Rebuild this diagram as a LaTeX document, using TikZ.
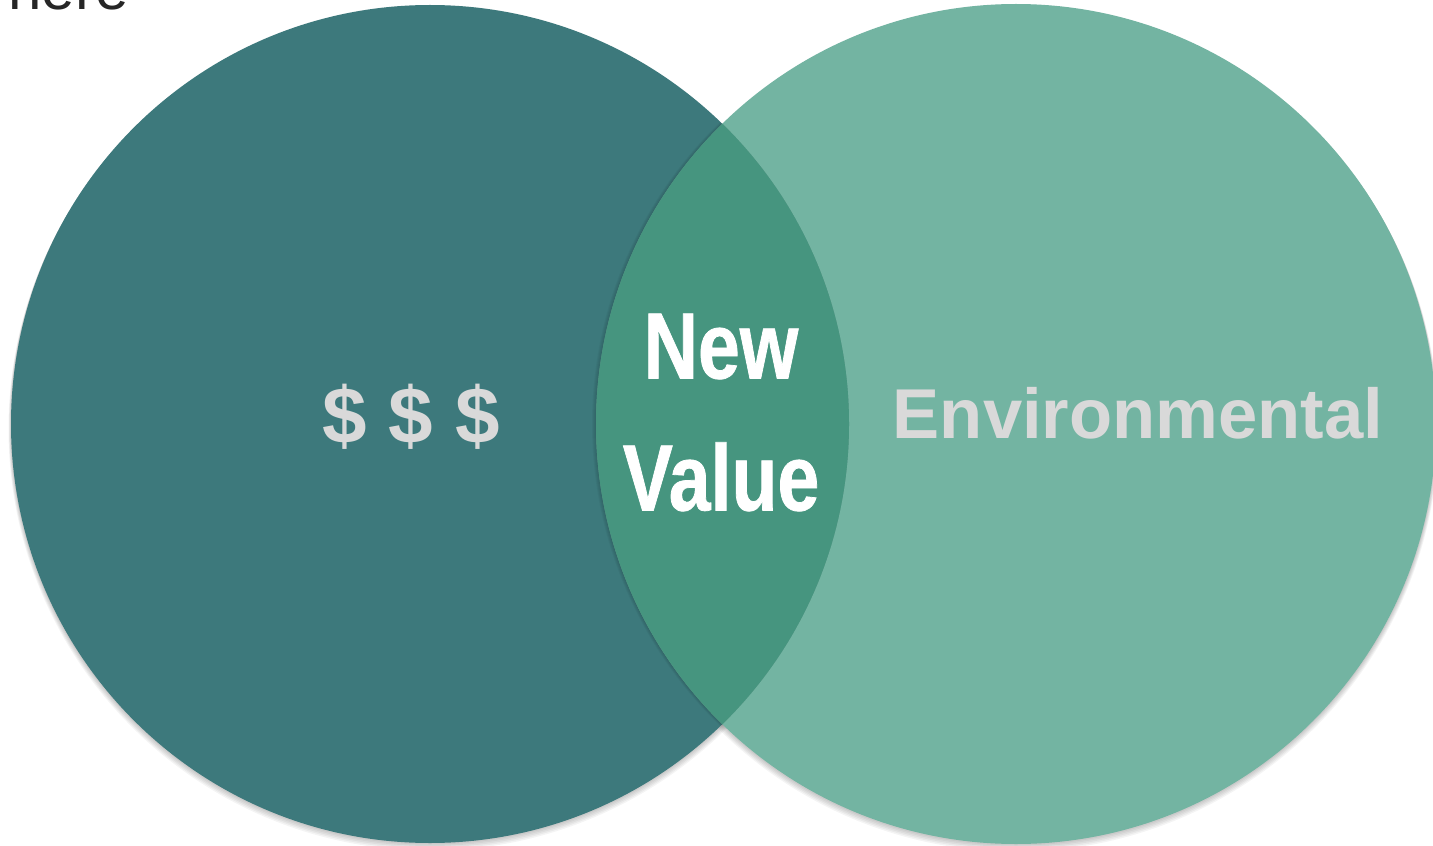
\documentclass[tikz,border=0pt]{standalone}
\usepackage{fontspec}
\setmainfont{Liberation Sans}
\newfontfamily\condfont[FakeStretch=0.80,FakeBold=0.8]{Liberation Sans}
\definecolor{leftc}{HTML}{3D797C}
\definecolor{rightc}{HTML}{73B4A2}
\definecolor{lensc}{HTML}{46957F}
\definecolor{labgray}{HTML}{D9D9D9}
\tikzset{
  venn/.style={circle, inner sep=0pt, minimum size=419pt},
  biglabel/.style={inner sep=0pt, text=labgray, font=\bfseries},
}
\begin{document}
\begin{tikzpicture}[x=0.5pt,y=-0.5pt]
\useasboundingbox (0,0) rectangle (1433,845);
\fill[white] (0,0) rectangle (1433,845);
% soft shadows
\foreach \d in {1,2,3,4,5}{
  \fill[black,opacity=0.045] (430,424+\d) circle[radius=209.5pt+0.25pt*\d];
  \fill[black,opacity=0.045] (1016,424+\d) circle[radius=210pt+0.25pt*\d];
}
% circles
\node[venn, fill=leftc] (L) at (430,424) {};
\node[venn, minimum size=420pt, fill=rightc] (R) at (1016,424) {};
% overlap
\begin{scope}
  \clip (430,424) circle[radius=209.5pt];
  \foreach \d in {1,2,3,4}{
    \fill[black,opacity=0.035] (1016-\d,424) circle[radius=210pt];
  }
  \fill[lensc] (1016,424) circle[radius=210pt];
\end{scope}
% labels
\node[biglabel, anchor=base, font=\bfseries\fontsize{40}{40}\selectfont] (money) at (411,443) {\$ \$ \$};
\node[biglabel, anchor=center, align=center, text=white,
      font=\condfont\bfseries\fontsize{47}{66}\selectfont] (newval) at (721,412.5) {New\\Value};
\node[biglabel, anchor=base, font=\bfseries\fontsize{35.3}{36}\selectfont] (env) at (1138,438) {Environmental};
\node[anchor=base west, inner sep=0pt, text=black!85, font=\fontsize{30}{30}\selectfont] (here) at (8,10) {here};
\end{tikzpicture}
\end{document}
